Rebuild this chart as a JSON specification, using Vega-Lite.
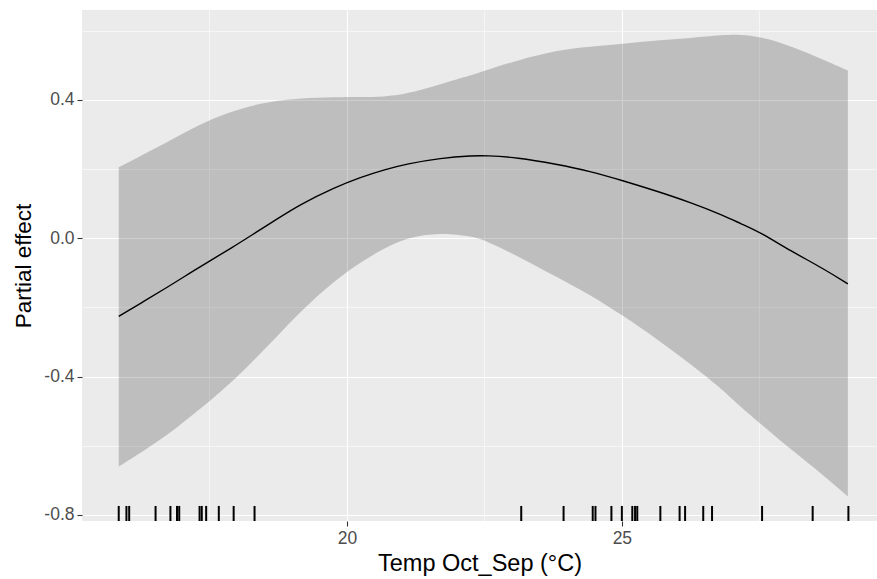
{
  "$schema": "https://vega.github.io/schema/vega-lite/v6.json",
  "autosize": {"type": "none"},
  "padding": {"left": 82, "top": 10, "right": 0, "bottom": 58},
  "width": 795,
  "height": 511,
  "background": "#FFFFFF",
  "config": {
    "view": {"fill": "#EBEBEB", "stroke": null},
    "font": "Liberation Sans",
    "axis": {
      "gridColor": "#FFFFFF",
      "domain": false,
      "tickColor": "#333333",
      "tickSize": 5,
      "tickWidth": 1.1,
      "labelColor": "#4D4D4D",
      "labelFontSize": 17.5,
      "labelFont": "Liberation Sans",
      "titleFont": "Liberation Sans",
      "titleFontSize": 22.5,
      "titleFontWeight": "normal",
      "titleColor": "#000000"
    }
  },
  "datasets": {
    "curve": [
      {"temp": 15.85, "fit": -0.226, "lo": -0.660, "hi": 0.205},
      {"temp": 16.30, "fit": -0.183, "lo": -0.615, "hi": 0.243},
      {"temp": 16.73, "fit": -0.142, "lo": -0.570, "hi": 0.278},
      {"temp": 17.12, "fit": -0.103, "lo": -0.520, "hi": 0.312},
      {"temp": 17.52, "fit": -0.064, "lo": -0.469, "hi": 0.343},
      {"temp": 17.90, "fit": -0.028, "lo": -0.417, "hi": 0.366},
      {"temp": 18.24, "fit": 0.006, "lo": -0.363, "hi": 0.383},
      {"temp": 18.73, "fit": 0.056, "lo": -0.285, "hi": 0.398},
      {"temp": 19.15, "fit": 0.098, "lo": -0.212, "hi": 0.405},
      {"temp": 19.76, "fit": 0.146, "lo": -0.125, "hi": 0.408},
      {"temp": 20.24, "fit": 0.176, "lo": -0.070, "hi": 0.408},
      {"temp": 20.67, "fit": 0.198, "lo": -0.030, "hi": 0.409},
      {"temp": 21.09, "fit": 0.215, "lo": 0.002, "hi": 0.417},
      {"temp": 21.70, "fit": 0.232, "lo": 0.017, "hi": 0.446},
      {"temp": 22.30, "fit": 0.239, "lo": 0.005, "hi": 0.473},
      {"temp": 22.52, "fit": 0.239, "lo": -0.007, "hi": 0.485},
      {"temp": 23.09, "fit": 0.234, "lo": -0.050, "hi": 0.514},
      {"temp": 23.82, "fit": 0.214, "lo": -0.113, "hi": 0.544},
      {"temp": 24.42, "fit": 0.194, "lo": -0.163, "hi": 0.554},
      {"temp": 25.01, "fit": 0.167, "lo": -0.223, "hi": 0.562},
      {"temp": 25.64, "fit": 0.136, "lo": -0.291, "hi": 0.572},
      {"temp": 26.24, "fit": 0.104, "lo": -0.363, "hi": 0.579},
      {"temp": 26.85, "fit": 0.066, "lo": -0.440, "hi": 0.588},
      {"temp": 27.15, "fit": 0.043, "lo": -0.487, "hi": 0.589},
      {"temp": 27.52, "fit": 0.017, "lo": -0.536, "hi": 0.583},
      {"temp": 28.06, "fit": -0.036, "lo": -0.609, "hi": 0.557},
      {"temp": 28.67, "fit": -0.088, "lo": -0.686, "hi": 0.516},
      {"temp": 29.11, "fit": -0.132, "lo": -0.747, "hi": 0.485}
    ],
    "rug": [
      {"temp": 15.85}, {"temp": 15.99}, {"temp": 16.04}, {"temp": 16.52},
      {"temp": 16.79}, {"temp": 16.91}, {"temp": 16.95}, {"temp": 17.32},
      {"temp": 17.36}, {"temp": 17.44}, {"temp": 17.67}, {"temp": 17.94},
      {"temp": 18.32}, {"temp": 23.17}, {"temp": 23.94}, {"temp": 24.47},
      {"temp": 24.52}, {"temp": 24.81}, {"temp": 25.00}, {"temp": 25.19},
      {"temp": 25.24}, {"temp": 25.28}, {"temp": 25.70}, {"temp": 26.05},
      {"temp": 26.15}, {"temp": 26.48}, {"temp": 26.64}, {"temp": 27.55},
      {"temp": 28.47}, {"temp": 29.12}
    ]
  },
  "resolve": {"axis": {"x": "independent", "y": "independent"}},
  "layer": [
    {
      "data": {"name": "curve"},
      "mark": {"type": "area", "color": "#000000", "opacity": 0.19, "interpolate": "basis"},
      "encoding": {
        "x": {"field": "temp", "type": "quantitative",
              "scale": {"domain": [15.182, 29.64], "nice": false, "zero": false},
              "axis": {"values": [17.5, 22.5, 27.5], "orient": "bottom", "grid": true, "gridWidth": 0.55, "labels": false, "ticks": false, "title": null}},
        "y": {"field": "lo", "type": "quantitative",
              "scale": {"domain": [-0.8175, 0.66], "nice": false, "zero": false},
              "axis": {"values": [-0.6, -0.2, 0.2, 0.6], "orient": "left", "grid": true, "gridWidth": 0.55, "labels": false, "ticks": false, "title": null}},
        "y2": {"field": "hi"}
      }
    },
    {
      "data": {"name": "curve"},
      "mark": {"type": "line", "color": "#000000", "strokeWidth": 1.4, "interpolate": "basis"},
      "encoding": {
        "x": {"field": "temp", "type": "quantitative",
              "axis": {"values": [20, 25], "orient": "bottom", "grid": true, "gridWidth": 1.1, "labelPadding": 3, "titlePadding": 5, "titleFontSize": 23.5, "title": "Temp Oct_Sep (°C)"}},
        "y": {"field": "fit", "type": "quantitative",
              "axis": {"values": [-0.8, -0.4, 0, 0.4], "orient": "left", "grid": true, "gridWidth": 1.1, "labelPadding": 3, "titlePadding": 8, "title": "Partial effect",
                       "labelExpr": "datum.value < 0 ? '-' + format(-datum.value, '.1f') : format(datum.value, '.1f')"}}
      }
    },
    {
      "data": {"name": "rug"},
      "mark": {"type": "rule", "color": "#000000", "strokeWidth": 2},
      "encoding": {
        "x": {"field": "temp", "type": "quantitative", "axis": null},
        "y": {"datum": -0.8175, "axis": null},
        "y2": {"datum": -0.774}
      }
    }
  ]
}
